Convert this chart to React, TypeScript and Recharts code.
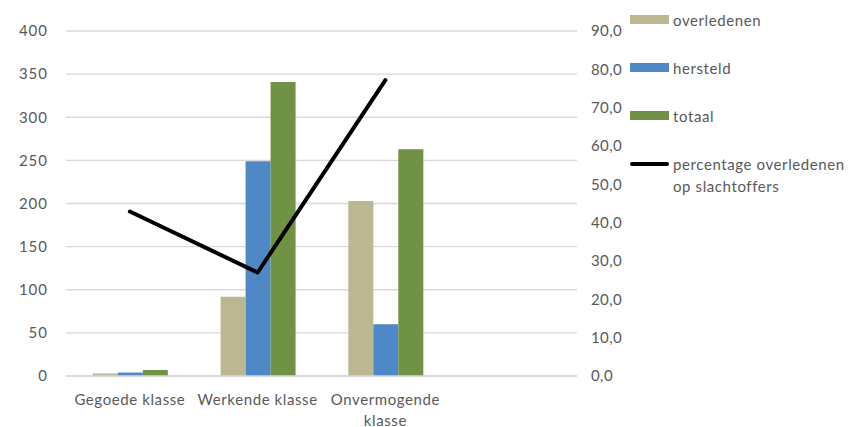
import React from "react";
import { Bar, CartesianGrid, ComposedChart, Legend, Line, Text, XAxis, YAxis } from "recharts";

const categories = ["Gegoede klasse", "Werkende klasse", "Onvermogende klasse", ""];
const overledenen = [3, 92, 203, null];
const hersteld = [4, 249, 60, null];
const totaal = [7, 341, 263, null];
const percentage = [42.9, 27.0, 77.2, null];

const leftTicks = [0, 50, 100, 150, 200, 250, 300, 350, 400];
const rightTicks = [0, 10, 20, 30, 40, 50, 60, 70, 80, 90];

const data = categories.map((name, i) => ({
  name,
  overledenen: overledenen[i],
  hersteld: hersteld[i],
  totaal: totaal[i],
  percentage: percentage[i],
}));

const FONT = "Lato, 'Open Sans', sans-serif";
const TEXT = "#595959";
const GRID = "#d9d9d9";

const legendItems = [
  { label: "overledenen", color: "#bcb692", kind: "box" },
  { label: "hersteld", color: "#4e88c7", kind: "box" },
  { label: "totaal", color: "#6f9244", kind: "box" },
  { label: "percentage overledenen op slachtoffers", color: "#000000", kind: "line" },
];

function CategoryTick(props: any) {
  const { x, y, payload } = props;
  return (
    <Text
      x={x}
      y={y}
      width={124}
      textAnchor="middle"
      verticalAnchor="start"
      lineHeight={21}
      fill={TEXT}
      style={{ fontSize: 15, fontFamily: FONT, letterSpacing: 0.6 }}
    >
      {payload.value}
    </Text>
  );
}

function SideLegend() {
  return (
    <div style={{ position: "relative", width: 220, fontFamily: FONT, fontSize: 15, color: TEXT, letterSpacing: 0.6 }}>
      {legendItems.map((item, i) => (
        <div
          key={item.label}
          style={{ position: "absolute", left: 0, top: 8.5 + i * 48, display: "flex", alignItems: "flex-start", lineHeight: "22px" }}
        >
          <div
            style={{
              width: 39,
              height: item.kind === "box" ? 9 : 4,
              marginTop: item.kind === "box" ? 6.5 : 9,
              background: item.color,
              borderRadius: item.kind === "box" ? 0 : 2,
              flexShrink: 0,
            }}
          />
          <div style={{ marginLeft: 4, width: 180 }}>{item.label}</div>
        </div>
      ))}
    </div>
  );
}

export default function App() {
  return (
    <div style={{ position: "absolute", left: 0, top: 0, width: 851, height: 427, background: "#fff" }}>
      <ComposedChart
        width={851}
        height={427}
        data={data}
        margin={{ top: 31, right: 224, left: 0, bottom: 0 }}
        barCategoryGap="21%"
        barGap={0}
      >
        <CartesianGrid vertical={false} stroke={GRID} strokeWidth={1.3} yAxisId="left" />
        <XAxis
          dataKey="name"
          height={51}
          tickLine={false}
          axisLine={{ stroke: GRID, strokeWidth: 1.3 }}
          tickMargin={12}
          interval={0}
          tick={<CategoryTick />}
        />
        <YAxis
          yAxisId="left"
          width={66}
          domain={[0, 400]}
          ticks={leftTicks}
          axisLine={false}
          tickLine={false}
          tickMargin={12}
          tick={{ fill: TEXT, fontSize: 15, fontFamily: FONT, letterSpacing: 1 }}
        />
        <YAxis
          yAxisId="right"
          orientation="right"
          width={50}
          domain={[0, 90]}
          ticks={rightTicks}
          axisLine={false}
          tickLine={false}
          tickMargin={8}
          tickFormatter={(v: number) => v.toFixed(1).replace(".", ",")}
          tick={{ fill: TEXT, fontSize: 15, fontFamily: FONT, textAnchor: "start", letterSpacing: 0.4 }}
        />
        <Legend
          layout="vertical"
          align="center"
          verticalAlign="middle"
          content={() => <SideLegend />}
          wrapperStyle={{ left: 630, top: 0, width: 220 }}
        />
        <Bar yAxisId="left" dataKey="overledenen" fill="#bcb692" isAnimationActive={false} />
        <Bar yAxisId="left" dataKey="hersteld" fill="#4e88c7" isAnimationActive={false} />
        <Bar yAxisId="left" dataKey="totaal" fill="#6f9244" isAnimationActive={false} />
        <Line
          yAxisId="right"
          dataKey="percentage"
          type="linear"
          stroke="#000"
          strokeWidth={4}
          dot={false}
          activeDot={false}
          strokeLinecap="round"
          strokeLinejoin="round"
          isAnimationActive={false}
        />
      </ComposedChart>
    </div>
  );
}
